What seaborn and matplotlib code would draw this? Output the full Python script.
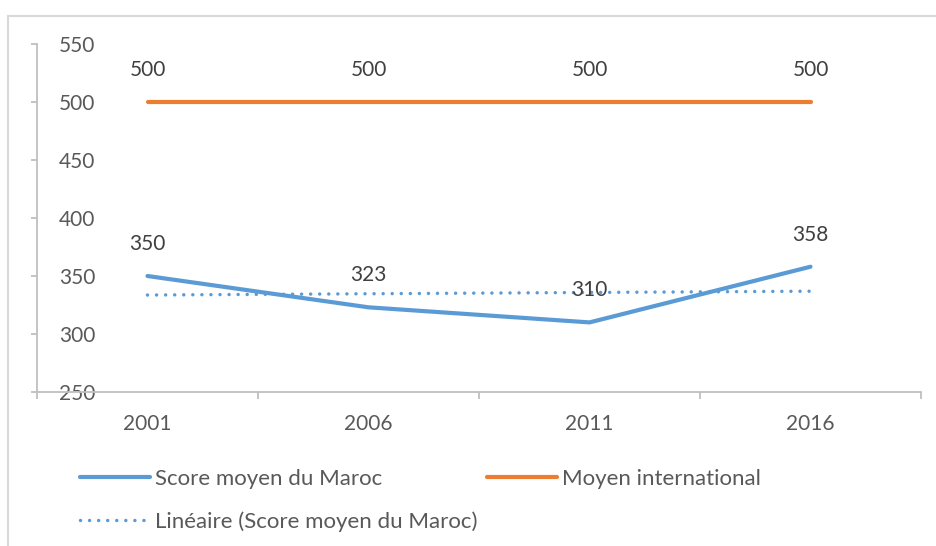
import numpy as np
import pandas as pd
import matplotlib
matplotlib.use("Agg")
import matplotlib.pyplot as plt
import seaborn as sns
from matplotlib.patches import Rectangle
from matplotlib.lines import Line2D

years = ["2001", "2006", "2011", "2016"]
maroc = [350, 323, 310, 358]
international = [500, 500, 500, 500]
y_ticks = [250, 300, 350, 400, 450, 500, 550]
lbl_maroc = "Score moyen du Maroc"
lbl_inter = "Moyen international"
lbl_trend = "Linéaire (Score moyen du Maroc)"

BLUE = "#5B9BD5"
ORANGE = "#ED7D31"
TXT = "#595959"
LBL = "#404040"
AX = "#BFBFBF"

sns.set_theme(style="white")
plt.rcParams["font.family"] = ["Lato", "DejaVu Sans"]
FS = 15
LFS = 16

pos = np.arange(len(years))
df = pd.DataFrame({"pos": pos, "maroc": maroc, "inter": international})

fig = plt.figure(figsize=(9.36, 5.46), dpi=100)
ax = fig.add_axes([37/936, 1-392/546, (921-37)/936, (392-44)/546])

DOTS = (0, (0.01, 2.6))

sns.lineplot(data=df, x="pos", y="maroc", ax=ax, color=BLUE, lw=3,
             solid_capstyle="round", zorder=3)
sns.lineplot(data=df, x="pos", y="inter", ax=ax, color=ORANGE, lw=3,
             solid_capstyle="round", zorder=3)
sns.regplot(data=df, x="pos", y="maroc", ax=ax, scatter=False, ci=None,
            truncate=True,
            line_kws=dict(color=BLUE, lw=2.5, linestyle=DOTS,
                          dash_capstyle="round", zorder=2))

for x, v in zip(pos, maroc):
    ax.annotate(str(v), (x, v), xytext=(0, 23), textcoords="offset points",
                ha="center", va="center", fontsize=FS, color=LBL, zorder=5)
for x, v in zip(pos, international):
    ax.annotate(str(v), (x, v), xytext=(0, 23), textcoords="offset points",
                ha="center", va="center", fontsize=FS, color=LBL, zorder=5)

ax.set_xlim(-0.5, len(years) - 0.5)
ax.set_ylim(250, 550)
ax.set_yticks(y_ticks)
ax.set_yticklabels([str(t) for t in y_ticks])
ax.set_xticks(pos)
ax.set_xticklabels(years)
ax.set_xticks(np.arange(len(years) + 1) - 0.5, minor=True)
ax.set_xlabel("")
ax.set_ylabel("")

for s in ["top", "right"]:
    ax.spines[s].set_visible(False)
for s in ["left", "bottom"]:
    ax.spines[s].set_color(AX)
    ax.spines[s].set_linewidth(1.3)

ax.tick_params(axis="x", which="major", length=0, pad=16, labelsize=FS, labelcolor=TXT)
ax.tick_params(axis="x", which="minor", length=5, width=1.3, color=AX, bottom=True)
ax.tick_params(axis="y", length=4, width=1.3, color=AX, left=True,
               labelsize=FS, labelcolor=TXT, pad=-46)
for t in ax.get_yticklabels():
    t.set_horizontalalignment("right")

handles = [
    Line2D([], [], color=BLUE, lw=3, solid_capstyle="round"),
    Line2D([], [], color=BLUE, lw=2.5, linestyle=DOTS, dash_capstyle="round"),
    Line2D([], [], color=ORANGE, lw=3, solid_capstyle="round"),
]
labels = [lbl_maroc, lbl_trend, lbl_inter]
fig.legend(handles, labels, loc="upper left", bbox_to_anchor=(80/936, 1-469/546),
           ncol=2, frameon=False, fontsize=LFS, labelcolor=TXT,
           handlelength=3.15, handletextpad=0.22, columnspacing=0.45,
           labelspacing=1.0, borderpad=0, borderaxespad=0)

fig.patches.append(Rectangle((8/936, -0.1), 1.0, 1 - 16/546 + 0.1,
                             transform=fig.transFigure, fill=False,
                             edgecolor="#D9D9D9", lw=1.5, zorder=0))

fig.savefig("out.png", dpi=100)
